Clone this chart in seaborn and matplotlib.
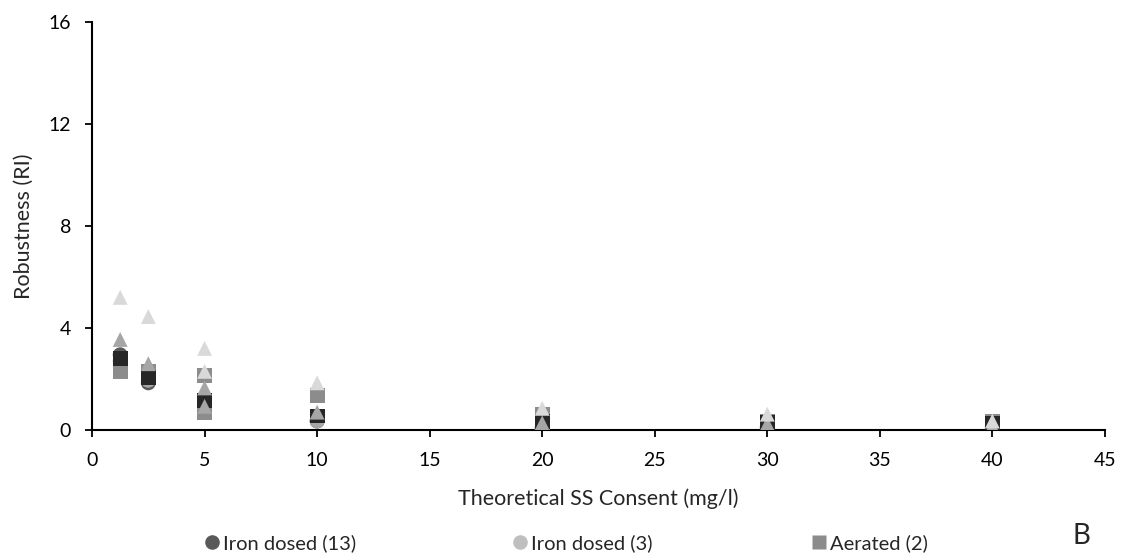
import matplotlib
matplotlib.use("Agg")
import matplotlib.pyplot as plt
import seaborn as sns
import pandas as pd
import numpy as np
from matplotlib.lines import Line2D

nan = np.nan
x_vals = [1.25, 2.5, 5, 10, 20, 30, 40]

iron13 = [2.95, 1.85, 0.75, 0.35, 0.08, 0.08, 0.08]
iron3 = [2.7, 1.95, 0.9, 0.35, 0.05, 0.1, 0.1]
aerated = [2.3, 2.3, 2.15, 1.37, 0.6, 0.35, 0.35]
aerated_b = [nan, nan, 0.68, nan, nan, nan, nan]
black_sq = [2.8, 2.05, 1.15, 0.55, 0.35, 0.3, 0.25]
tri_light = [5.2, 4.45, 3.2, 1.85, 0.85, 0.62, 0.35]
tri_light2 = [nan, nan, 2.3, nan, nan, nan, nan]
tri_mid = [3.55, 2.6, 1.65, 0.7, 0.28, 0.25, 0.15]
tri_mid2 = [nan, nan, 0.93, nan, nan, nan, nan]

series = [
    (iron13, "o", "#595959"),
    (iron3, "o", "#a6a6a6"),
    (aerated, "s", "#8c8c8c"),
    (aerated_b, "s", "#8c8c8c"),
    (black_sq, "s", "#262626"),
    (tri_mid2, "^", "#a6a6a6"),
    (tri_light2, "^", "#d9d9d9"),
    (tri_mid, "^", "#a6a6a6"),
    (tri_light, "^", "#d9d9d9"),
]

sns.set_style("white")
plt.rcParams['font.family'] = ['Lato', 'DejaVu Sans']

fig = plt.figure(figsize=(11.24, 5.58), dpi=100)
ax = fig.add_axes([0.0819, 0.2294, 0.9011, 0.7312])

for vals, mk, col in series:
    df = pd.DataFrame({"x": x_vals, "y": vals}).dropna()
    sns.scatterplot(data=df, x="x", y="y", marker=mk, color=col, s=115,
                    edgecolor="none", linewidth=0, ax=ax, legend=False, zorder=3)

ax.set_xlim(0, 45)
ax.set_ylim(0, 16)
ax.set_xticks(range(0, 46, 5))
ax.set_yticks([0, 4, 8, 12, 16])
ax.tick_params(axis='both', which='both', direction='out', length=5, width=1.3,
               colors='black', labelsize=14, bottom=True, left=True)
ax.tick_params(axis='x', pad=11)
ax.tick_params(axis='y', pad=10)
for side in ['top', 'right']:
    ax.spines[side].set_visible(False)
for side in ['left', 'bottom']:
    ax.spines[side].set_color('black')
    ax.spines[side].set_linewidth(1.5)
ax.set_xlabel("Theoretical SS Consent (mg/l)", fontsize=15.5)
ax.set_ylabel("Robustness (RI)", fontsize=15.5)
ax.xaxis.set_label_coords(0.5, -0.169)
ax.yaxis.set_label_coords(-0.0671, 0.5)
ax.xaxis.label.set_va("center")
ax.yaxis.label.set_va("center")

entries = [
    ("Iron dosed (13)", "o", "#595959", 0.1815),
    ("Iron dosed (3)", "o", "#bfbfbf", 0.4555),
    ("Aerated (2)", "s", "#8c8c8c", 0.7215),
]
for lab, mk, col, xpos in entries:
    h = Line2D([], [], marker=mk, color="none", markerfacecolor=col,
               markeredgecolor="none", markersize=10.5)
    fig.legend([h], [lab], loc="center left", bbox_to_anchor=(xpos, 0.027),
               frameon=False, fontsize=14.5, handletextpad=0.15,
               handlelength=0.8, borderpad=0, borderaxespad=0)

fig.text(0.9617, 0.04, "B", fontsize=20, ha="center", va="center")

fig.savefig("out.png", dpi=100)
